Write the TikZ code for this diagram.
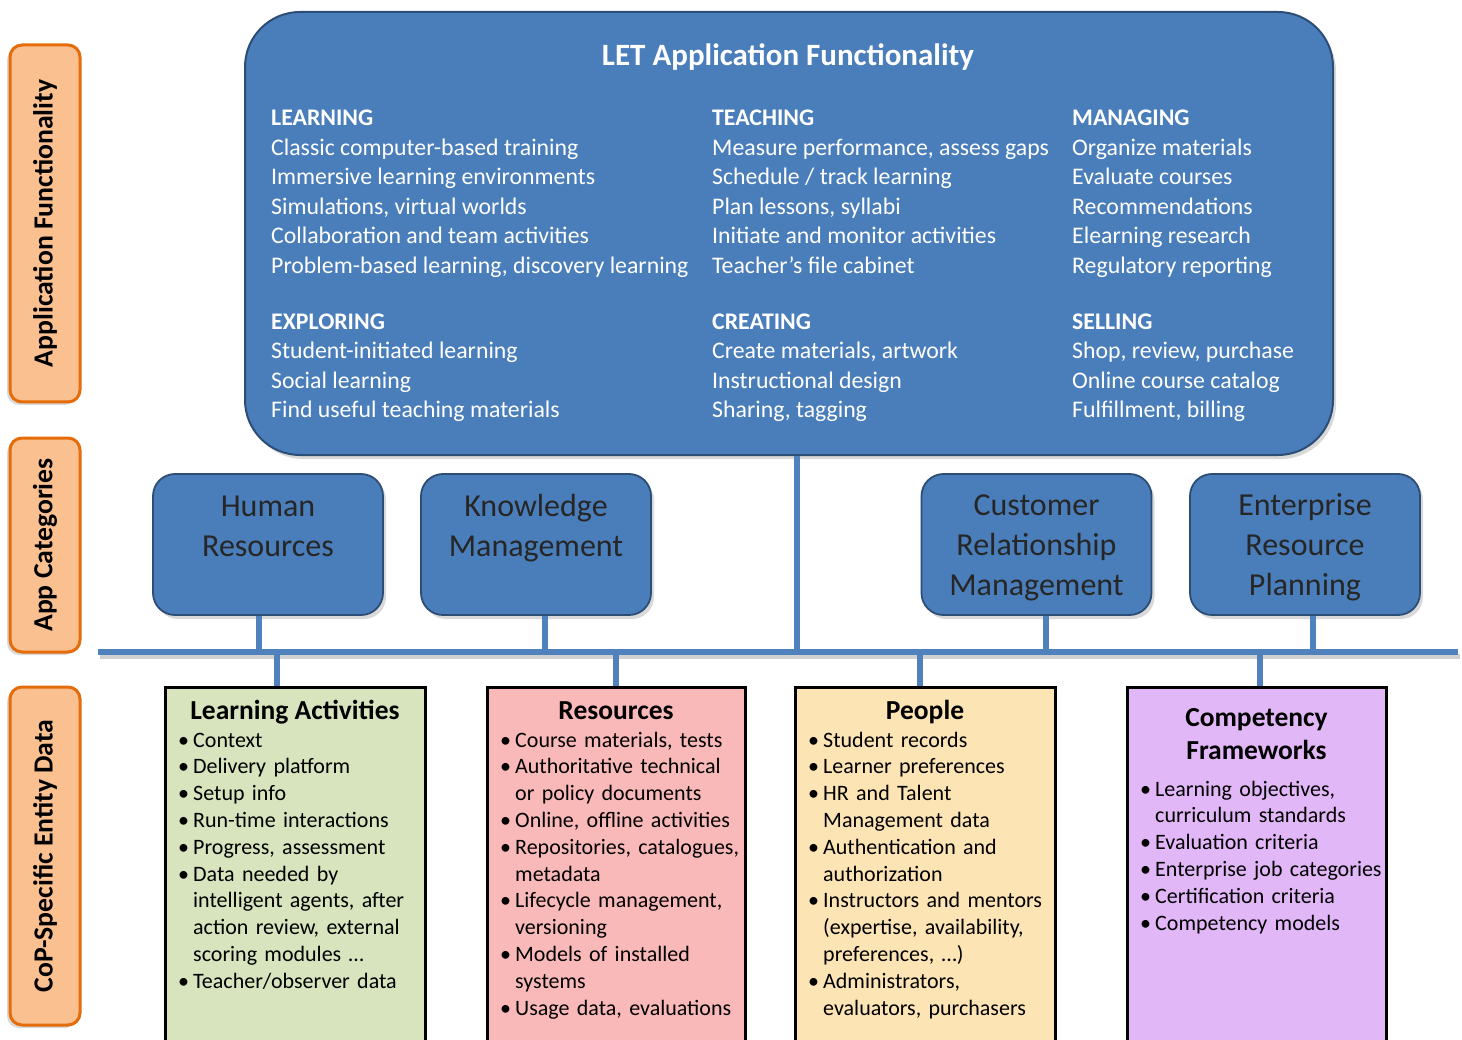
\documentclass[tikz,border=0pt]{standalone}
\usepackage{fontspec}
\setmainfont{Carlito}
\usepackage{tikz}
\usetikzlibrary{positioning,calc,shadows}

\definecolor{appblue}{RGB}{74,126,187}
\definecolor{appedge}{RGB}{44,77,117}
\definecolor{busblue}{RGB}{79,129,189}
\definecolor{labelfill}{RGB}{250,192,144}
\definecolor{labeledge}{RGB}{228,108,10}
\definecolor{actfill}{RGB}{215,228,189}
\definecolor{resfill}{RGB}{250,185,185}
\definecolor{peoplefill}{RGB}{252,228,180}
\definecolor{compfill}{RGB}{226,183,247}

\newcommand{\bulletline}[1]{\noindent\hangindent=15pt\hangafter=1\makebox[15pt][l]{\textbullet}#1\par}

\begin{document}
\begin{tikzpicture}[
    x=1pt, y=-1pt,
    appbox/.style={draw=appedge, line width=2pt, fill=appblue, rounded corners=55pt, minimum width=1088pt, minimum height=443pt, drop shadow={opacity=0.3, shadow xshift=3pt, shadow yshift=-4pt}},
    colgroup/.style={anchor=base west, align=left, inner sep=0pt, text=white, font=\fontsize{23.8}{29.5}\selectfont},
    catbox/.style={draw=appedge, line width=1.8pt, fill=appblue, rounded corners=22pt, minimum width=230pt, minimum height=141pt, drop shadow={opacity=0.3, shadow xshift=3pt, shadow yshift=-4pt}},
    cattext/.style={anchor=base, align=center, inner sep=0pt, text=black!85, font=\fontsize{32}{40}\selectfont},
    sidelabel/.style={draw=labeledge, line width=3pt, fill=labelfill, rounded corners=12pt, rotate=90, minimum height=70pt, font=\fontsize{27.7}{32}\selectfont\bfseries, drop shadow={opacity=0.3, shadow xshift=-3pt, shadow yshift=-3pt}},
    entity/.style={draw=black, line width=3pt, anchor=north, minimum height=372pt},
    entitytitle/.style={anchor=base, align=center, inner sep=0pt, font=\fontsize{27.5}{33}\selectfont\bfseries},
    entitylist/.style={anchor=base west, text width=320pt, align=left, inner sep=0pt, font=\fontsize{22}{26.8}\selectfont},
    busline/.style={draw=busblue, line width=6pt}
]
    \useasboundingbox (0,0) rectangle (1462,1040);

    \node[sidelabel, minimum width=357pt] (lab-app) at (45,223.5) {Application Functionality};
    \node[sidelabel, minimum width=214pt] (lab-cat) at (45,545) {App Categories};
    \node[sidelabel, minimum width=338pt] (lab-data) at (45,856) {CoP-Specific Entity Data};

    \node[appbox] (app) at (789,233.5) {};
    \node[anchor=base, text=white, font=\fontsize{31}{37}\selectfont\bfseries] (app-title) at (788,66) {LET Application Functionality};

    \node[colgroup] (learn) at (271,273.4) {\textbf{LEARNING}\\Classic computer-based training\\Immersive learning environments\\Simulations, virtual worlds\\Collaboration and team activities\\Problem-based learning, discovery learning};
    \node[colgroup] (teach) at (712,273.4) {\textbf{TEACHING}\\Measure performance, assess gaps\\Schedule / track learning\\Plan lessons, syllabi\\Initiate and monitor activities\\Teacher’s file cabinet};
    \node[colgroup] (manage) at (1072,273.4) {\textbf{MANAGING}\\Organize materials\\Evaluate courses\\Recommendations\\Elearning research\\Regulatory reporting};
    \node[colgroup] (explore) at (271,417.9) {\textbf{EXPLORING}\\Student-initiated learning\\Social learning\\Find useful teaching materials};
    \node[colgroup] (create) at (712,417.9) {\textbf{CREATING}\\Create materials, artwork\\Instructional design\\Sharing, tagging};
    \node[colgroup] (sell) at (1072,417.9) {\textbf{SELLING}\\Shop, review, purchase\\Online course catalog\\Fulfillment, billing};

    \node[catbox] (hr) at (268,544.5) {};
    \node[catbox] (km) at (536,544.5) {};
    \node[catbox] (crm) at (1036.5,544.5) {};
    \node[catbox] (erp) at (1305,544.5) {};
    \node[cattext] (hr-text) at (268,556) {Human\\Resources};
    \node[cattext] (km-text) at (536,556) {Knowledge\\Management};
    \node[cattext] (crm-text) at (1036.5,595) {Customer\\Relationship\\Management};
    \node[cattext] (erp-text) at (1305,595) {Enterprise\\Resource\\Planning};

    \node[entity, fill=actfill, minimum width=260pt] (act) at (295,686) {};
    \node[entity, fill=resfill, minimum width=258pt] (res) at (616,686) {};
    \node[entity, fill=peoplefill, minimum width=260pt] (people) at (925,686) {};
    \node[entity, fill=compfill, minimum width=259pt] (comp) at (1256.5,686) {};

    \node[entitytitle] (act-title) at (295,719) {Learning Activities};
    \node[entitylist] (act-list) at (178,747) {\bulletline{Context}\bulletline{Delivery platform}\bulletline{Setup info}\bulletline{Run-time interactions}\bulletline{Progress, assessment}\bulletline{Data needed by\newline intelligent agents, after\newline action review, external\newline scoring modules …}\bulletline{Teacher/observer data}};

    \node[entitytitle] (res-title) at (616,719) {Resources};
    \node[entitylist] (res-list) at (500,747) {\bulletline{Course materials, tests}\bulletline{Authoritative technical\newline or policy documents}\bulletline{Online, offline activities}\bulletline{Repositories, catalogues,\newline metadata}\bulletline{Lifecycle management,\newline versioning}\bulletline{Models of installed\newline systems}\bulletline{Usage data, evaluations}};

    \node[entitytitle] (people-title) at (925,719) {People};
    \node[entitylist] (people-list) at (808,747) {\bulletline{Student records}\bulletline{Learner preferences}\bulletline{HR and Talent\newline Management data}\bulletline{Authentication and\newline authorization}\bulletline{Instructors and mentors\newline (expertise, availability,\newline preferences, …)}\bulletline{Administrators,\newline evaluators, purchasers}};

    \node[entitytitle] (comp-title) at (1256.5,759) {Competency\\Frameworks};
    \node[entitylist] (comp-list) at (1140,796) {\bulletline{Learning objectives,\newline curriculum standards}\bulletline{Evaluation criteria}\bulletline{Enterprise job categories}\bulletline{Certification criteria}\bulletline{Competency models}};

    \coordinate (bus-w) at (98,652);
    \coordinate (bus-e) at (1458,652);
    \draw[black!18, line width=5pt] ([shift={(2,4)}]bus-w) -- ([shift={(2,4)}]bus-e);
    \draw[busline] (bus-w) -- (bus-e);

    \foreach \n/\dx in {app/8, hr/-9, km/9, crm/9.5, erp/8} {
        \coordinate (\n-tap) at ([xshift=\dx pt]\n.south);
        \draw[busline] (\n-tap) -- (\n-tap |- bus-w);
    }
    \foreach \n/\dx in {act/-18, res/0, people/-5, comp/3.5} {
        \coordinate (\n-tap) at ([xshift=\dx pt]\n.north);
        \draw[busline] (\n-tap |- bus-w) -- (\n-tap);
    }
\end{tikzpicture}
\end{document}
